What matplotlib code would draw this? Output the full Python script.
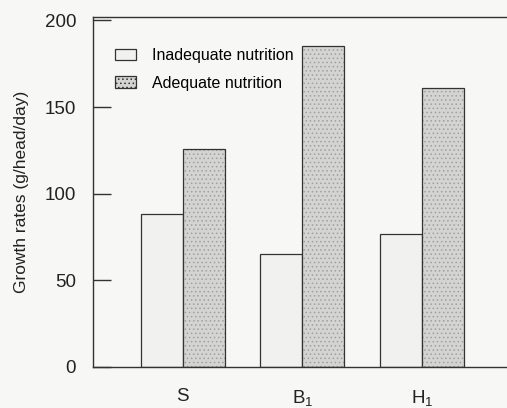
import matplotlib
matplotlib.use("Agg")
import matplotlib.pyplot as plt
from matplotlib.patches import Patch
import numpy as np

categories = ["S", "B$_1$", "H$_1$"]
inadequate = [88, 65, 77]
adequate = [126, 185, 161]
series_names = ["Inadequate nutrition", "Adequate nutrition"]
y_ticks = [0, 50, 100, 150, 200]

plt.rcParams.update(
    {
        "font.family": ["Liberation Sans", "DejaVu Sans"],
        "mathtext.fontset": "custom",
        "mathtext.rm": "Liberation Sans",
        "mathtext.it": "Liberation Sans",
        "mathtext.default": "regular",
        "hatch.linewidth": 0.6,
        "hatch.color": "#9a9a9a",
    }
)

bg = "#f7f7f5"
ink = "#333333"
light_face = "#f1f1ef"
dark_face = "#d4d4d2"

fig = plt.figure(figsize=(5.07, 4.08), dpi=100, facecolor=bg)
ax = fig.add_axes([0.183, 0.1005, 0.815, 0.858], facecolor=bg)

x = np.arange(len(categories))
w = 0.35

ax.bar(x - w / 2, inadequate, w, facecolor=light_face, edgecolor=ink, linewidth=0.9, zorder=2)
ax.bar(x + w / 2, adequate, w, facecolor=dark_face, edgecolor="#a0a0a0", hatch="....",
       linewidth=0, zorder=2)
ax.bar(x + w / 2, adequate, w, fill=False, edgecolor=ink, linewidth=0.9, zorder=3)

ax.set_xlim(-0.75, 2.7)
ax.set_ylim(0, 202)
ax.set_yticks(y_ticks)
ax.set_xticks(x)
ax.set_xticklabels(categories, fontsize=13.5)
ax.tick_params(axis="y", direction="in", length=13, width=1.0, color=ink, labelsize=13.5,
               pad=12, labelcolor="#222222")
ax.tick_params(axis="x", length=0, pad=15, labelcolor="#222222")

for s in ["left", "top", "bottom"]:
    ax.spines[s].set_color(ink)
    ax.spines[s].set_linewidth(1.0)
ax.spines["right"].set_visible(False)

ax.set_ylabel("Growth rates (g/head/day)", fontsize=12.5, color="#222222", labelpad=11)

handles = [
    Patch(facecolor=light_face, edgecolor=ink, linewidth=0.9),
    Patch(facecolor=dark_face, edgecolor=ink, linewidth=0.9, hatch="...."),
]
leg = ax.legend(
    handles,
    series_names,
    loc="upper left",
    bbox_to_anchor=(115 / 507, 1 - 48 / 408),
    bbox_transform=fig.transFigure,
    frameon=False,
    fontsize=11.5,
    handlelength=1.3,
    handleheight=0.75,
    handletextpad=1.0,
    labelspacing=0.8,
    borderpad=0,
    borderaxespad=0,
)

fig.savefig("out.png", dpi=100, facecolor=bg)
